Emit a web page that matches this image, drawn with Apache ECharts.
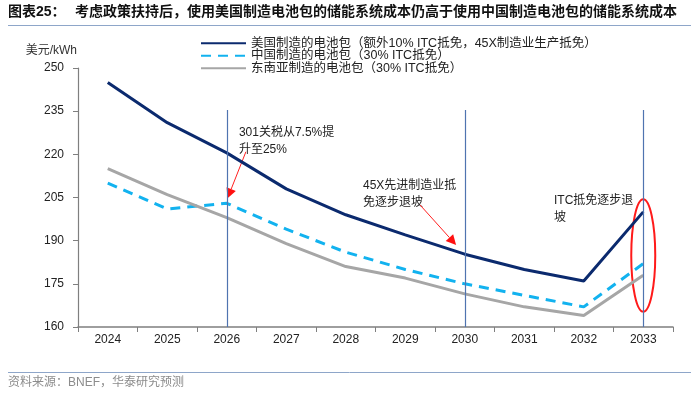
<!DOCTYPE html>
<html><head><meta charset="utf-8">
<script src="https://cdn.jsdelivr.net/npm/echarts@6/dist/echarts.min.js"></script>
<style>html,body{margin:0;padding:0;background:#fff}#c{width:700px;height:395px}</style>
</head><body><div id="c"></div>
<script>
const years = ['2024','2025','2026','2027','2028','2029','2030','2031','2032','2033'];
const usPack = [245, 231, 220.5, 208, 199, 192, 185.3, 180, 176, 200];
const cnPack = [210, 201, 203, 194, 186, 180, 175, 171, 167, 182];
const seaPack = [215, 206, 198, 189, 181, 177, 171.5, 167, 164, 178];
const seriesNames = ['美国制造的电池包（额外10% ITC抵免，45X制造业生产抵免）','中国制造的电池包（30% ITC抵免）','东南亚制造的电池包（30% ITC抵免）'];
const refYears = ['2026','2030','2033'];
const refTop = 235.4;
const yMin = 160, yMax = 250, yStep = 15;

const FONT = '"Liberation Sans","Noto Sans CJK SC",sans-serif';
const chart = echarts.init(document.getElementById('c'), null, {renderer:'canvas'});

chart.setOption({
  animation:false,
  textStyle:{fontFamily:FONT},
  grid:{left:78, right:27, top:68, bottom:68, containLabel:false},
  legend:{
    orient:'vertical', left:195, top:32, itemWidth:45, itemHeight:10, itemGap:0,
    itemStyle:{opacity:0},
    textStyle:{fontSize:12.5, lineHeight:12.5, color:'#222', fontFamily:FONT},
    data:seriesNames
  },
  xAxis:{
    type:'category', data:years, boundaryGap:true,
    axisLine:{lineStyle:{color:'#7f7f7f', width:1.5}},
    axisTick:{show:true, length:5, lineStyle:{color:'#7f7f7f'}},
    axisLabel:{color:'#222', fontSize:12, margin:7}
  },
  yAxis:{
    type:'value', min:yMin, max:yMax, interval:yStep,
    name:'美元/kWh', nameLocation:'end', nameGap:11,
    nameTextStyle:{color:'#333', fontSize:12, align:'right', padding:[0,1,0,0]},
    axisLine:{show:true, lineStyle:{color:'#7f7f7f', width:1.2}},
    axisTick:{show:true, length:5, lineStyle:{color:'#7f7f7f'}},
    axisLabel:{color:'#222', fontSize:12, margin:14},
    splitLine:{show:false}
  },
  series:[
    {name:seriesNames[0], type:'line', data:usPack, symbol:'none',
     lineStyle:{color:'#0b2a6e', width:3}, itemStyle:{color:'#0b2a6e'},
     markLine:{silent:true, symbol:'none', label:{show:false},
       lineStyle:{color:'#4f74b0', width:1.2, type:'solid'},
       data: refYears.map(y=>[{coord:[y, refTop]},{coord:[y, yMin]}])}
    },
    {name:seriesNames[1], type:'line', data:cnPack, symbol:'none',
     lineStyle:{color:'#12b2ef', width:3, type:[10,7]}, itemStyle:{color:'#12b2ef'}},
    {name:seriesNames[2], type:'line', data:seaPack, symbol:'none',
     lineStyle:{color:'#a6a6a6', width:3}, itemStyle:{color:'#a6a6a6'}}
  ]
});

// annotations anchored to data space: [category index (fractional), value]
const annTexts = [
  {text:'301关税从7.5%提\n升至25%', at:[2.204, 230.5]},
  {text:'45X先进制造业抵\n免逐步退坡', at:[4.29, 212.1]},
  {text:'ITC抵免逐步退\n坡', at:[7.50, 206.9]}
];
const arrows = [
  {from:[2.322, 220.9], to:[2.013, 204.7]},
  {from:[5.249, 202.4], to:[5.855, 188.5]}
];
const ellipse = {center:[9, 184.85], rx:12, halfSpan:19.5};

function px(p){
  const i0 = Math.floor(p[0]), f = p[0]-i0;
  const a = chart.convertToPixel({xAxisIndex:0,yAxisIndex:0}, [i0, p[1]]);
  const b = chart.convertToPixel({xAxisIndex:0,yAxisIndex:0}, [i0+1, p[1]]);
  return [a[0] + f*(b[0]-a[0]), a[1]];
}
const g = [];
g.push({type:'text', left:8, top:5, style:{text:'图表25：', font:'bold 14px '+FONT, fill:'#111'}});
g.push({type:'text', left:75, top:5, style:{text:'考虑政策扶持后，使用美国制造电池包的储能系统成本仍高于使用中国制造电池包的储能系统成本', font:'bold 14px '+FONT, fill:'#111'}});
g.push({type:'line', shape:{x1:8,y1:25.5,x2:691,y2:25.5}, style:{stroke:'#8ea6c9', lineWidth:1.2}});
g.push({type:'line', shape:{x1:8,y1:372.5,x2:691,y2:372.5}, style:{stroke:'#8ea6c9', lineWidth:1}});
g.push({type:'text', left:8, top:377, style:{text:'资料来源：BNEF，华泰研究预测', font:'12px '+FONT, fill:'#8c8c8c'}});
annTexts.forEach(a=>{
  const p = px(a.at);
  g.push({type:'text', x:p[0], y:p[1], style:{text:a.text, font:'12px '+FONT, fill:'#222', lineHeight:17}});
});
arrows.forEach(a=>{
  const s = px(a.from), t = px(a.to);
  const dx=t[0]-s[0], dy=t[1]-s[1], L=Math.hypot(dx,dy), ux=dx/L, uy=dy/L;
  const hl=10, hw=5;
  const bx=t[0]-ux*hl, by=t[1]-uy*hl;
  g.push({type:'line', shape:{x1:s[0],y1:s[1],x2:bx,y2:by}, style:{stroke:'#ff2020', lineWidth:1}});
  g.push({type:'polygon', shape:{points:[[t[0],t[1]],[bx-uy*hw,by+ux*hw],[bx+uy*hw,by-ux*hw]]}, style:{fill:'#ff1010'}});
});
{
  const c = px(ellipse.center);
  const top = px([ellipse.center[0], ellipse.center[1]+ellipse.halfSpan]);
  g.push({type:'ellipse', shape:{cx:c[0], cy:c[1], rx:ellipse.rx, ry:c[1]-top[1]}, style:{fill:'none', stroke:'#ff1a1a', lineWidth:2}});
}
chart.setOption({graphic:g});
</script></body></html>
